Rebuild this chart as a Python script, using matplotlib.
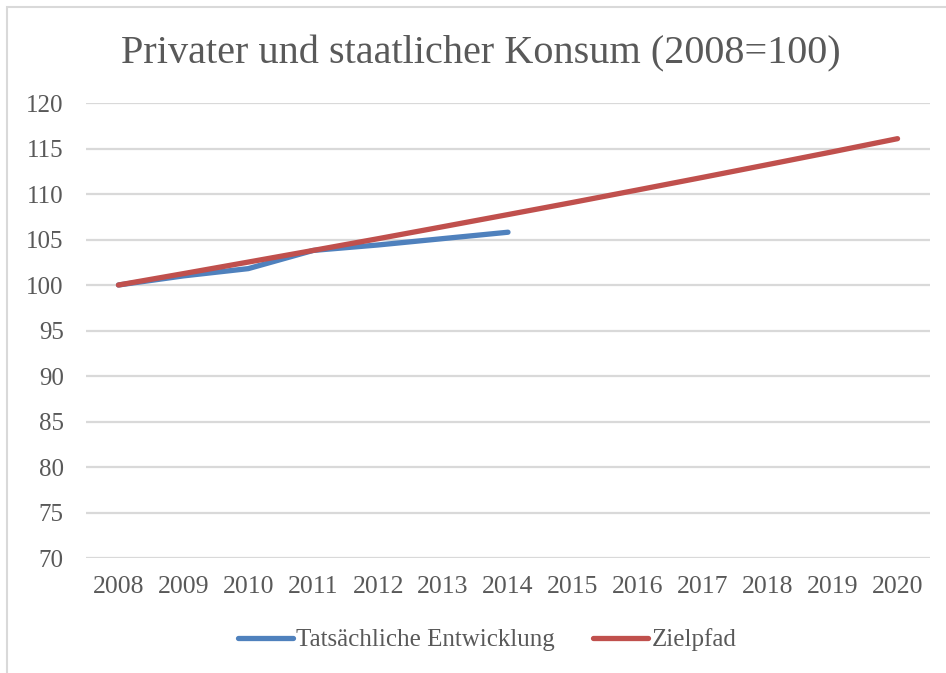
#!/usr/bin/env python3
"""Privater und staatlicher Konsum (2008=100), Ist vs. Zielpfad."""

import matplotlib
matplotlib.use('Agg')
import matplotlib.pyplot as plt
from matplotlib.patches import Rectangle

YEARS = ['2008', '2009', '2010', '2011', '2012', '2013', '2014',
         '2015', '2016', '2017', '2018', '2019', '2020']
IST = [100.0, 101.0, 101.8, 103.8, 104.4, 105.1, 105.8]
ZIEL = [100.0, 101.25, 102.52, 103.8, 105.09, 106.41, 107.74,
        109.08, 110.45, 111.83, 113.23, 114.64, 116.08]
Y_TICKS = [70, 75, 80, 85, 90, 95, 100, 105, 110, 115, 120]

TXT = '#595959'
GRID = '#d9d9d9'
plt.rcParams['font.family'] = ['Liberation Serif', 'DejaVu Serif']

W, H = 946, 673
fig = plt.figure(figsize=(W / 100, H / 100), dpi=100)
fig.patch.set_facecolor('white')

# chart area frame (only left/top visible in the original crop)
fig.add_artist(Rectangle((7 / W, -0.1), 1.2, 1 - 7 / H + 0.1,
                         transform=fig.transFigure, fill=False,
                         edgecolor=GRID, linewidth=1.5))

ax = fig.add_axes([86 / W, 1 - 558 / H, (930 - 86) / W, (558 - 103) / H])
x = list(range(len(YEARS)))
ax.plot(x[:len(IST)], IST, color='#4f81bd', lw=3.8,
        solid_capstyle='round', solid_joinstyle='round',
        label='Tatsächliche Entwicklung', zorder=3)
ax.plot(x, ZIEL, color='#c0504d', lw=3.8,
        solid_capstyle='round', solid_joinstyle='round',
        label='Zielpfad', zorder=4)

ax.set_xlim(-0.5, len(YEARS) - 0.5)
ax.set_ylim(70, 120)
ax.set_xticks(x)
ax.set_xticklabels(YEARS)
ax.set_yticks(Y_TICKS)
ax.tick_params(axis='both', length=0, labelsize=18, colors=TXT)
ax.tick_params(axis='x', labelsize=18.5, pad=13)
ax.tick_params(axis='y', pad=16)
for s in ax.spines.values():
    s.set_visible(False)
ax.grid(axis='y', color=GRID, lw=1.6)
ax.set_axisbelow(True)

fig.text(481 / W, 1 - 54 / H, 'Privater und staatlicher Konsum (2008=100)',
         ha='center', va='center', fontsize=29, color=TXT)

leg = fig.legend(loc='center', bbox_to_anchor=(487 / W, 1 - 640 / H),
                 ncol=2, frameon=False, fontsize=18, handlelength=2.2,
                 handletextpad=0.15, columnspacing=1.5)
for t in leg.get_texts():
    t.set_color(TXT)

fig.savefig('out.png', dpi=100)
